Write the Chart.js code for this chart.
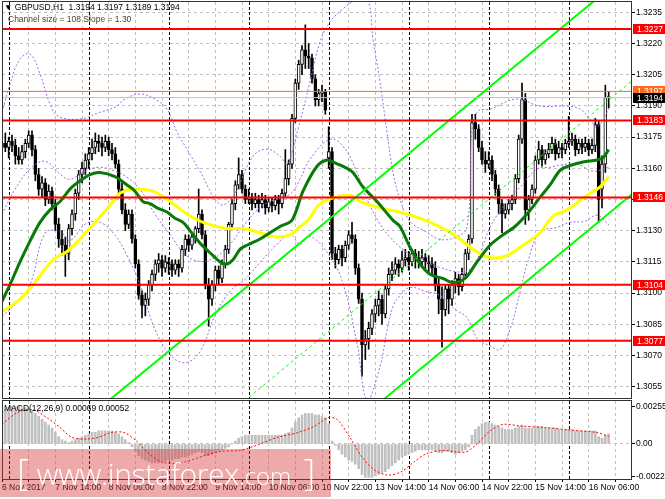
<!DOCTYPE html>
<html>
<head>
<meta charset="utf-8">
<script src="https://cdn.jsdelivr.net/npm/chart.js@4.4.0/dist/chart.umd.min.js"></script>
<style>
body{margin:0;background:#fff;width:665px;height:499px;overflow:hidden;position:relative;font-family:"Liberation Sans",Arial,sans-serif}
canvas{position:absolute;left:0}
#main{top:0}
#macd{top:400px}
.t{position:absolute;font-size:8.5px;white-space:nowrap;color:#000}
#wm{position:absolute;left:0;top:449px;width:331px;height:48px;background:rgba(214,52,52,0.42);color:#fff;font-family:"Open Sans",sans-serif;white-space:nowrap;box-sizing:border-box;padding-left:17px;line-height:46px}
#wm .w{font-size:30px;font-weight:300;letter-spacing:-0.3px}
#wm .c{font-size:24px;font-weight:300}
#wm .b{font-size:36px;font-weight:200}
</style>
</head>
<body>
<canvas id="main" width="665" height="400"></canvas>
<canvas id="macd" width="665" height="99"></canvas>
<div class="t" style="left:4px;top:2px">&#9660; GBPUSD,H1&nbsp; 1.3194 1.3197 1.3189 1.3194</div>
<div class="t" style="left:8px;top:14px;color:#4d3d1d">Channel size = 108 Slope = 1.30</div>
<div class="t" style="left:4px;top:403px">MACD(12,26,9) 0.00069 0.00052</div>
<div id="wm"><span class="b">[</span>&nbsp; <span class="w">www.instaforex</span><span class="c">.com</span>&nbsp;&nbsp; <span class="b">]</span></div>
<script>
// GBPUSD H1, bars from 6 Nov 22:00 to 16 Nov 12:00 (index = bar number)
const opens = [1.3170,1.3172,1.3170,1.3173,1.3171,1.3166,1.3164,1.3168,1.3172,1.3176,
1.3169,1.3157,1.3150,1.3153,1.3145,1.3149,1.3143,1.3133,1.3126,1.3123,
1.3119,1.3131,1.3138,1.3148,1.3157,1.3160,1.3164,1.3167,1.3170,1.3173,
1.3172,1.3170,1.3173,1.3169,1.3167,1.3162,1.3150,1.3140,1.3133,1.3138,
1.3126,1.3114,1.3099,1.3094,1.3097,1.3104,1.3109,1.3114,1.3116,1.3112,
1.3115,1.3114,1.3111,1.3114,1.3112,1.3121,1.3126,1.3123,1.3127,1.3131,
1.3138,1.3128,1.3104,1.3097,1.3104,1.3111,1.3107,1.3114,1.3121,1.3133,
1.3143,1.3152,1.3157,1.3150,1.3145,1.3146,1.3143,1.3145,1.3143,1.3145,
1.3141,1.3144,1.3142,1.3145,1.3143,1.3148,1.3155,1.3162,1.3184,1.3201,
1.3210,1.3217,1.3214,1.3213,1.3203,1.3193,1.3196,1.3197,1.3165,1.3168,
1.3119,1.3116,1.3121,1.3117,1.3123,1.3128,1.3126,1.3112,1.3097,1.3075,
1.3078,1.3083,1.3090,1.3094,1.3097,1.3090,1.3102,1.3109,1.3111,1.3114,
1.3112,1.3116,1.3117,1.3115,1.3119,1.3117,1.3115,1.3117,1.3115,1.3114,
1.3112,1.3104,1.3097,1.3092,1.3102,1.3097,1.3104,1.3107,1.3103,1.3109,
1.3119,1.3126,1.3182,1.3179,1.3170,1.3164,1.3162,1.3164,1.3157,1.3150,
1.3143,1.3138,1.3140,1.3143,1.3145,1.3155,1.3174,1.3193,1.3140,1.3145,
1.3150,1.3164,1.3169,1.3164,1.3167,1.3169,1.3172,1.3167,1.3170,1.3169,
1.3172,1.3173,1.3174,1.3169,1.3172,1.3170,1.3172,1.3169,1.3171,1.3181,
1.3150,1.3162,1.3194];
const highs = [1.3176,1.3177,1.3175,1.3176,1.3174,1.3170,1.3171,1.3174,1.3178,1.3178,
1.3171,1.3160,1.3156,1.3155,1.3152,1.3151,1.3145,1.3136,1.3130,1.3127,
1.3133,1.3140,1.3150,1.3159,1.3163,1.3167,1.3170,1.3174,1.3177,1.3176,
1.3175,1.3176,1.3175,1.3172,1.3170,1.3164,1.3153,1.3143,1.3140,1.3140,
1.3128,1.3116,1.3101,1.3100,1.3106,1.3111,1.3116,1.3119,1.3118,1.3118,
1.3117,1.3116,1.3116,1.3116,1.3123,1.3128,1.3128,1.3129,1.3132,1.3150,
1.3140,1.3130,1.3107,1.3106,1.3113,1.3113,1.3116,1.3123,1.3134,1.3145,
1.3154,1.3165,1.3159,1.3152,1.3150,1.3148,1.3148,1.3147,1.3148,1.3147,
1.3146,1.3146,1.3147,1.3147,1.3150,1.3169,1.3164,1.3186,1.3203,1.3212,
1.3219,1.3229,1.3220,1.3215,1.3205,1.3198,1.3200,1.3198,1.3180,1.3170,
1.3122,1.3123,1.3123,1.3125,1.3130,1.3134,1.3128,1.3114,1.3100,1.3082,
1.3086,1.3092,1.3097,1.3101,1.3099,1.3104,1.3112,1.3115,1.3117,1.3116,
1.3120,1.3121,1.3120,1.3121,1.3121,1.3120,1.3121,1.3119,1.3118,1.3117,
1.3115,1.3107,1.3103,1.3104,1.3104,1.3106,1.3110,1.3109,1.3112,1.3121,
1.3128,1.3186,1.3186,1.3181,1.3173,1.3168,1.3168,1.3166,1.3159,1.3152,
1.3145,1.3143,1.3145,1.3147,1.3157,1.3176,1.3201,1.3196,1.3147,1.3152,
1.3166,1.3173,1.3171,1.3169,1.3172,1.3175,1.3174,1.3173,1.3172,1.3174,
1.3185,1.3177,1.3176,1.3174,1.3174,1.3175,1.3174,1.3174,1.3184,1.3183,
1.3166,1.3200,1.3197];
const lows = [1.3166,1.3168,1.3165,1.3168,1.3162,1.3162,1.3162,1.3165,1.3170,1.3166,
1.3154,1.3147,1.3146,1.3142,1.3143,1.3140,1.3130,1.3122,1.3118,1.3108,
1.3116,1.3128,1.3135,1.3145,1.3153,1.3157,1.3160,1.3164,1.3167,1.3168,
1.3166,1.3168,1.3166,1.3164,1.3160,1.3148,1.3138,1.3130,1.3131,1.3124,
1.3112,1.3097,1.3088,1.3089,1.3094,1.3101,1.3106,1.3110,1.3108,1.3110,
1.3109,1.3108,1.3109,1.3108,1.3110,1.3118,1.3120,1.3121,1.3124,1.3129,
1.3126,1.3102,1.3084,1.3094,1.3101,1.3104,1.3105,1.3112,1.3119,1.3131,
1.3140,1.3150,1.3148,1.3143,1.3143,1.3140,1.3141,1.3139,1.3141,1.3138,
1.3139,1.3139,1.3140,1.3138,1.3141,1.3146,1.3152,1.3160,1.3182,1.3198,
1.3205,1.3208,1.3208,1.3201,1.3190,1.3190,1.3192,1.3186,1.3160,1.3116,
1.3112,1.3114,1.3113,1.3115,1.3121,1.3124,1.3109,1.3095,1.3060,1.3068,
1.3073,1.3080,1.3086,1.3089,1.3085,1.3088,1.3099,1.3106,1.3109,1.3108,
1.3110,1.3113,1.3111,1.3113,1.3112,1.3112,1.3113,1.3111,1.3110,1.3109,
1.3101,1.3090,1.3074,1.3089,1.3090,1.3094,1.3100,1.3099,1.3101,1.3107,
1.3116,1.3124,1.3174,1.3168,1.3162,1.3158,1.3160,1.3154,1.3147,1.3138,
1.3129,1.3136,1.3138,1.3140,1.3143,1.3153,1.3172,1.3133,1.3135,1.3143,
1.3148,1.3162,1.3161,1.3162,1.3165,1.3167,1.3164,1.3165,1.3165,1.3167,
1.3170,1.3171,1.3166,1.3167,1.3167,1.3168,1.3166,1.3167,1.3168,1.3134,
1.3141,1.3158,1.3189];
const closes = [1.3172,1.3170,1.3173,1.3171,1.3166,1.3164,1.3168,1.3172,1.3176,1.3169,
1.3157,1.3150,1.3153,1.3145,1.3149,1.3143,1.3133,1.3126,1.3123,1.3119,
1.3131,1.3138,1.3148,1.3157,1.3160,1.3164,1.3167,1.3170,1.3173,1.3172,
1.3170,1.3173,1.3169,1.3167,1.3162,1.3150,1.3140,1.3133,1.3138,1.3126,
1.3114,1.3099,1.3094,1.3097,1.3104,1.3109,1.3114,1.3116,1.3112,1.3115,
1.3114,1.3111,1.3114,1.3112,1.3121,1.3126,1.3123,1.3127,1.3131,1.3138,
1.3128,1.3104,1.3097,1.3104,1.3111,1.3107,1.3114,1.3121,1.3133,1.3143,
1.3152,1.3157,1.3150,1.3145,1.3146,1.3143,1.3145,1.3143,1.3145,1.3141,
1.3144,1.3142,1.3145,1.3143,1.3148,1.3155,1.3162,1.3184,1.3201,1.3210,
1.3217,1.3214,1.3213,1.3203,1.3193,1.3196,1.3197,1.3188,1.3168,1.3119,
1.3116,1.3121,1.3117,1.3123,1.3128,1.3126,1.3112,1.3097,1.3075,1.3078,
1.3083,1.3090,1.3094,1.3097,1.3090,1.3102,1.3109,1.3111,1.3114,1.3112,
1.3116,1.3117,1.3115,1.3119,1.3117,1.3115,1.3117,1.3115,1.3114,1.3112,
1.3104,1.3097,1.3092,1.3102,1.3097,1.3104,1.3107,1.3103,1.3109,1.3119,
1.3126,1.3182,1.3179,1.3170,1.3164,1.3162,1.3164,1.3157,1.3150,1.3143,
1.3138,1.3140,1.3143,1.3145,1.3155,1.3174,1.3193,1.3140,1.3145,1.3150,
1.3164,1.3169,1.3164,1.3167,1.3169,1.3172,1.3167,1.3170,1.3169,1.3172,
1.3173,1.3174,1.3169,1.3172,1.3170,1.3172,1.3169,1.3171,1.3181,1.3145,
1.3162,1.3194,1.3194];

// moving averages (bar index, price)
const greenMaX = [0,2.4,5.4,8.4,11.4,14.4,17.4,20.4,23.4,26.4,29.4,33.9,37.5,39.9,42.3,44.4,46.5,49.5,51.9,54.3,56.4,59.4,63.3,65.4,67.5,69.3,71.4,73.5,77.4,80.4,83.4,87,90.3,94.5,97.5,99.3,103.5,105.3,108.3,112.5,117.3,119.4,122.4,125.4,128.4,132.3,135.3,138.9,142.5,146.4,150.3,153.9,157.5,161.4,164.4,167.4,169.8,174.3,178.5,180.3,182];
const greenMaY = [1.3096,1.3104,1.3115,1.3125,1.3134,1.3140,1.3144,1.3150,1.3154,1.3157,1.3158,1.3156,1.3152,1.3149,1.3144,1.3143,1.3141,1.3139,1.3136,1.3134,1.3130,1.3124,1.3118,1.3115,1.3114,1.3116,1.3121,1.3123,1.3126,1.3129,1.3132,1.3135,1.3149,1.3161,1.3164,1.3163,1.3160,1.3158,1.3151,1.3144,1.3135,1.3132,1.3122,1.3114,1.3109,1.3107,1.3105,1.3107,1.3115,1.3123,1.3128,1.3132,1.3138,1.3146,1.3152,1.3159,1.3161,1.3163,1.3164,1.3165,1.3169];
const yellowMaX = [0,5.4,9.3,15.3,19.5,23.4,28.5,33.3,35.4,39.3,45.3,50.4,55.5,60.3,67.5,72.3,77.4,81.9,86.4,89.4,91.8,94.8,97.8,104.4,107.4,113.4,121.5,128.4,133.5,137.4,141.3,146.4,151.5,156.3,161.4,165.3,169.5,175.5,179.4,182];
const yellowMaY = [1.3091,1.3097,1.3104,1.3116,1.3120,1.3126,1.3135,1.3144,1.3148,1.3150,1.3149,1.3144,1.3138,1.3134,1.3131,1.3131,1.3129,1.3127,1.3128,1.3132,1.3135,1.3142,1.3145,1.3147,1.3144,1.3141,1.3138,1.3134,1.3130,1.3126,1.3121,1.3117,1.3118,1.3123,1.3129,1.3137,1.3140,1.3147,1.3151,1.3156];

// bollinger bands (upper / middle / lower)
const bbUpperX = [0,2.4,5.4,8.4,11.4,14.4,16.8,23.4,29.4,33.9,36.9,41.4,45.9,49.5,52.5,55.5,59.4,65.4,69.3,75.3,79.5,83.4,85.5,88.8,92.4,95.4,98.4,102.3,105.3,109.5,111.3,113.4,115.5,117.3,119.4,122.4,126.9,131.4,135.9,139.5,141,142.8,146.4,154.5,161.4,169.5,173.4,176.4,178.5,182.1];
const bbUpperY = [1.31870,1.32005,1.32126,1.32150,1.32054,1.31909,1.31851,1.31837,1.31870,1.31894,1.31933,1.31957,1.31933,1.31885,1.31774,1.31692,1.31586,1.31427,1.31465,1.31658,1.31692,1.31658,1.31620,1.31788,1.32015,1.32208,1.32304,1.32367,1.32401,1.32415,1.32222,1.32015,1.31774,1.31581,1.31451,1.31345,1.31297,1.31258,1.31268,1.31316,1.31788,1.31875,1.31885,1.31933,1.31899,1.31899,1.31885,1.31837,1.31798,1.31885];
const bbMidX = [0,3.9,8.4,12.9,17.4,20.4,24.9,29.4,33.9,37.5,41.4,45.9,50.4,54.9,59.4,63.9,68.4,72.9,77.4,81.9,86.4,89.4,92.4,98.4,102.3,106.5,109.5,113.4,116.4,119.4,122.4,126.9,131.4,135.9,139.5,142.8,146.4,150.9,155.4,160.5,164.4,169.5,173.4,177.3,182.1];
const bbMidY = [1.31379,1.31499,1.31596,1.31634,1.31572,1.31547,1.31586,1.31605,1.31586,1.31557,1.31499,1.31379,1.31282,1.31186,1.31152,1.31171,1.31234,1.31331,1.31412,1.31451,1.31475,1.31547,1.31644,1.31740,1.31706,1.31581,1.31451,1.31331,1.31268,1.31220,1.31186,1.31152,1.31123,1.31104,1.31104,1.31171,1.31316,1.31427,1.31509,1.31596,1.31605,1.31620,1.31615,1.31586,1.31605];
const bbLowerX = [0,3.9,8.4,12.9,17.4,20.4,24.9,29.4,33.9,37.5,41.4,45.9,50.4,54.9,59.4,63.9,68.4,72.9,77.4,81.9,86.4,89.4,92.4,98.4,102.3,106.5,109.5,113.4,115.5,117.3,119.4,122.4,126.9,131.4,135.9,139.5,142.8,146.4,149.4,152.4,155.4,157.5,161.4,166.5,170.4,174.9,178.5,182.1];
const bbLowerY = [1.30887,1.30945,1.31041,1.31287,1.31297,1.31253,1.31331,1.31340,1.31278,1.31181,1.31041,1.30825,1.30704,1.30665,1.30718,1.30892,1.31008,1.31066,1.31147,1.31224,1.31282,1.31234,1.31273,1.31176,1.31046,1.30757,1.30487,1.30646,1.30820,1.30935,1.30988,1.31027,1.31008,1.30988,1.30921,1.30882,1.30776,1.30747,1.30728,1.30825,1.31003,1.31138,1.31292,1.31316,1.31340,1.31345,1.31374,1.31326];

// regression channel end points
const chUpperX = [29.4,189], chUpperY = [1.30448,1.32555];
const chMidX = [71.4,189], chMidY = [1.30463,1.32020];
const chLowerX = [110.4,189], chLowerY = [1.30434,1.31475];

const levels = [1.3227,1.3183,1.3146,1.3104,1.3077];
const orangeLevel = 1.3197;
const bidLevel = 1.3194;

const priceTicks = [1.3055,1.3070,1.3085,1.3100,1.3115,1.3130,1.3145,1.3160,1.3175,1.3190,1.3205,1.3220,1.3235];
const gridIdx = [0,8,16,24,32,40,48,56,64,72,80,88,96,104,112,120,128,136,144,152,160,168,176,184];
const labelIdx = [0,16,32,48,64,80,96,112,128,144,160,176];
const labelText = ["6 Nov 2017","7 Nov 14:00","8 Nov 06:00","8 Nov 22:00","9 Nov 14:00","10 Nov 06:00","10 Nov 22:00","13 Nov 14:00","14 Nov 06:00","14 Nov 22:00","15 Nov 14:00","16 Nov 06:00"];
const daySeps = [2,26,50,74,98,122,146,170];

// MACD histogram per bar, signal line
const macdHist = [0.0023,0.0024,0.0025,0.0026,0.0026,0.0026,0.0025,0.0025,0.0024,0.0023,
0.0021,0.0019,0.0017,0.0015,0.0013,0.0011,0.0008,0.0005,0.0003,0.0002,
0.0001,0.0002,0.0003,0.0004,0.0005,0.0006,0.0007,0.0008,0.0008,0.0009,
0.0009,0.0009,0.0009,0.0009,0.0008,0.0007,0.0005,0.0003,0.0001,-0.0002,
-0.0005,-0.0008,-0.0010,-0.0011,-0.0012,-0.0013,-0.0013,-0.0013,-0.0012,-0.0012,
-0.0011,-0.0011,-0.0010,-0.0010,-0.0009,-0.0009,-0.0008,-0.0007,-0.0006,-0.0005,
-0.0006,-0.0008,-0.0008,-0.0007,-0.0006,-0.0005,-0.0004,-0.0003,-0.0002,0.0000,
0.0002,0.0004,0.0005,0.0006,0.0006,0.0006,0.0006,0.0006,0.0006,0.0006,
0.0006,0.0006,0.0006,0.0006,0.0006,0.0007,0.0008,0.0011,0.0015,0.0018,
0.0020,0.0021,0.0021,0.0021,0.0020,0.0020,0.0019,0.0018,0.0014,0.0002,
-0.0001,-0.0004,-0.0007,-0.0009,-0.0011,-0.0012,-0.0014,-0.0017,-0.0021,-0.0023,
-0.0023,-0.0023,-0.0022,-0.0021,-0.0020,-0.0019,-0.0017,-0.0015,-0.0013,-0.0011,
-0.0009,-0.0008,-0.0007,-0.0006,-0.0005,-0.0004,-0.0004,-0.0004,-0.0004,-0.0004,
-0.0005,-0.0006,-0.0006,-0.0005,-0.0005,-0.0006,-0.0007,-0.0006,-0.0005,-0.0004,
-0.0002,0.0006,0.0010,0.0012,0.0014,0.0015,0.0015,0.0014,0.0013,0.0012,
0.0011,0.0010,0.0010,0.0010,0.0011,0.0012,0.0013,0.0011,0.0011,0.0011,
0.0012,0.0012,0.0012,0.0011,0.0011,0.0011,0.0011,0.0010,0.0010,0.0010,
0.0010,0.0010,0.0009,0.0009,0.0009,0.0009,0.0009,0.0009,0.0009,0.0005,
0.0004,0.0006,0.0007];
const signalX = [0,4.5,9,13.5,17.4,21,24.9,28.8,32.7,36.6,40.2,44.1,48,51.9,55.8,60.9,66,71.1,76.2,82.5,88.8,93.9,97.8,100.5,104.4,108,111.9,115.8,119.7,123.6,127.2,132.3,138.9,142.5,146.4,150.3,155.4,163.2,170.7,178.5,182];
const signalY = [0.00135,0.00215,0.00237,0.00181,0.00113,0.00045,0.00034,0.00045,0.00079,0.00079,0.00023,-0.00068,-0.00124,-0.00135,-0.00117,-0.00079,-0.00050,-0.00045,-0.00011,0.00045,0.00079,0.00124,0.00181,0.00169,0.00045,-0.00090,-0.00181,-0.00214,-0.00192,-0.00124,-0.00068,-0.00045,-0.00056,0.00000,0.00090,0.00135,0.00124,0.00113,0.00095,0.00079,0.00052];
const macdTicks = [-0.00223,0,0.00255];

const FONT = {family: '"Liberation Sans", Arial, sans-serif', size: 8.5};
const pts = (xs, ys) => xs.map((x, k) => ({x, y: ys[k]}));

// day separators + frame, drawn through the x/y scales
const framePlugin = {
  id: 'frame',
  beforeDatasetsDraw(chart) {
    const {ctx, chartArea: a, scales: {x}} = chart;
    ctx.save();
    ctx.strokeStyle = '#000';
    ctx.lineWidth = 1;
    ctx.setLineDash([3, 2]);
    daySeps.forEach(v => {
      const px = Math.round(x.getPixelForValue(v)) + 0.5;
      ctx.beginPath(); ctx.moveTo(px, a.top); ctx.lineTo(px, a.bottom); ctx.stroke();
    });
    ctx.restore();
  },
  afterDraw(chart) {
    const {ctx, chartArea: a} = chart;
    ctx.save();
    ctx.strokeStyle = '#333';
    ctx.lineWidth = 1;
    ctx.strokeRect(a.left + 0.5, a.top - 0.5, a.right - a.left - 1, a.bottom - a.top + 1);
    ctx.restore();
  }
};

// coloured price tags on the right axis
const tags = levels.map(v => ({v, bg: '#ff0000'}))
  .concat([{v: orangeLevel, bg: '#ff6a1a'}, {v: bidLevel, bg: '#000000'}]);
const tagPlugin = {
  id: 'tags',
  afterDraw(chart) {
    const {ctx, chartArea: a, scales: {y}} = chart;
    ctx.save();
    ctx.font = '8.5px "Liberation Sans", Arial, sans-serif';
    ctx.textBaseline = 'middle';
    tags.forEach(t => {
      const py = Math.round(y.getPixelForValue(t.v));
      ctx.fillStyle = t.bg;
      ctx.fillRect(a.right + 1, py - 5, 32, 10);
      ctx.fillStyle = '#fff';
      ctx.fillText(t.v.toFixed(4), a.right + 5, py + 0.5);
    });
    ctx.restore();
  }
};

const hline = (v, color, width, order) => ({
  type: 'line', data: [{x: 0, y: v}, {x: 189, y: v}], borderColor: color,
  borderWidth: width, pointRadius: 0, order
});
const lineDs = (xs, ys, color, width, dash, order, tension) => ({
  type: 'line', data: pts(xs, ys), borderColor: color, borderWidth: width,
  borderDash: dash, pointRadius: 0, tension: tension, order
});
const noSidePad = s => { s.paddingLeft = 0; s.paddingRight = 0; };

const idx = opens.map((o, i) => i);
const BB = '#a864e4';

new Chart(document.getElementById('main'), {
  data: {
    datasets: [
      ...levels.map(v => hline(v, '#ff0000', 2, 1)),
      hline(orangeLevel, '#ff6a1a', 1, 1),
      hline(bidLevel, '#c0c0c0', 1, 1),
      lineDs(chUpperX, chUpperY, '#00ff00', 2, [], 2, 0),
      lineDs(chLowerX, chLowerY, '#00ff00', 2, [], 2, 0),
      lineDs(chMidX, chMidY, '#00ff00', 1, [3, 3], 2, 0),
      lineDs(greenMaX, greenMaY, '#087a08', 3, [], 3, 0.3),
      lineDs(yellowMaX, yellowMaY, '#ffff00', 3, [], 4, 0.3),
      lineDs(bbUpperX, bbUpperY, BB, 1, [2, 2], 5, 0.4),
      lineDs(bbMidX, bbMidY, BB, 1, [2, 2], 5, 0.4),
      lineDs(bbLowerX, bbLowerY, BB, 1, [2, 2], 5, 0.4),
      {
        type: 'bar', order: 6, grouped: false, barThickness: 3, minBarLength: 1,
        data: idx.map(i => ({x: i, y: [opens[i], closes[i]]})),
        backgroundColor: c => closes[c.dataIndex] >= opens[c.dataIndex] ? '#ffffff' : '#000000',
        borderColor: '#000', borderWidth: 1, borderSkipped: false
      },
      {
        type: 'bar', order: 7, grouped: false, barThickness: 1,
        data: idx.map(i => ({x: i, y: [lows[i], highs[i]]})),
        backgroundColor: '#000'
      }
    ]
  },
  options: {
    responsive: false, animation: false,
    layout: {padding: {left: 2, top: 2, right: 0, bottom: 0}},
    plugins: {legend: {display: false}, tooltip: {enabled: false}},
    scales: {
      x: {
        type: 'linear', min: 0, max: 189, offset: false,
        afterBuildTicks: s => { s.ticks = gridIdx.map(v => ({value: v})); },
        afterFit: s => { s.height = 2; noSidePad(s); },
        ticks: {display: false},
        grid: {color: '#c0c0c0', drawTicks: false, offset: false},
        border: {display: false, dash: [3, 3]}
      },
      y: {
        position: 'right', min: 1.30495, max: 1.3240,
        afterBuildTicks: s => { s.ticks = priceTicks.map(v => ({value: v})); },
        afterFit: s => { s.width = 33; s.paddingTop = 0; s.paddingBottom = 0; },
        ticks: {font: FONT, color: '#000', padding: 1, callback: v => v.toFixed(4)},
        grid: {color: '#c0c0c0', tickColor: '#000', tickLength: 3},
        border: {display: false, dash: [3, 3]}
      }
    }
  },
  plugins: [framePlugin, tagPlugin]
});

new Chart(document.getElementById('macd'), {
  data: {
    datasets: [
      lineDs(signalX, signalY, '#ff0000', 1, [2, 2], 1, 0.3),
      {
        type: 'bar', order: 2, grouped: false, barThickness: 2,
        data: idx.map(i => ({x: i, y: macdHist[i]})),
        backgroundColor: '#c0c0c0'
      }
    ]
  },
  options: {
    responsive: false, animation: false,
    layout: {padding: {left: 2, top: 1, right: 0, bottom: 0}},
    plugins: {legend: {display: false}, tooltip: {enabled: false}},
    scales: {
      x: {
        type: 'linear', min: 0, max: 189, offset: false,
        afterBuildTicks: s => { s.ticks = gridIdx.map(v => ({value: v})); },
        afterFit: s => { s.height = 20; noSidePad(s); },
        ticks: {
          font: FONT, color: '#000', align: 'start', autoSkip: false, maxRotation: 0, padding: 1,
          callback: v => { const k = labelIdx.indexOf(v); return k < 0 ? '' : labelText[k]; }
        },
        grid: {color: '#c0c0c0', tickColor: '#000', tickLength: 3, offset: false},
        border: {display: false, dash: [3, 3]}
      },
      y: {
        position: 'right', min: -0.00241, max: 0.00296,
        afterBuildTicks: s => { s.ticks = macdTicks.map(v => ({value: v})); },
        afterFit: s => { s.width = 33; s.paddingTop = 0; s.paddingBottom = 0; },
        ticks: {font: FONT, color: '#000', padding: 1, callback: v => v === 0 ? '0.00' : v.toFixed(5)},
        grid: {color: c => c.tick && c.tick.value === 0 ? '#c0c0c0' : 'rgba(0,0,0,0)', tickColor: '#000', tickLength: 3},
        border: {display: false, dash: [3, 3]}
      }
    }
  },
  plugins: [framePlugin]
});
</script>
</body>
</html>
